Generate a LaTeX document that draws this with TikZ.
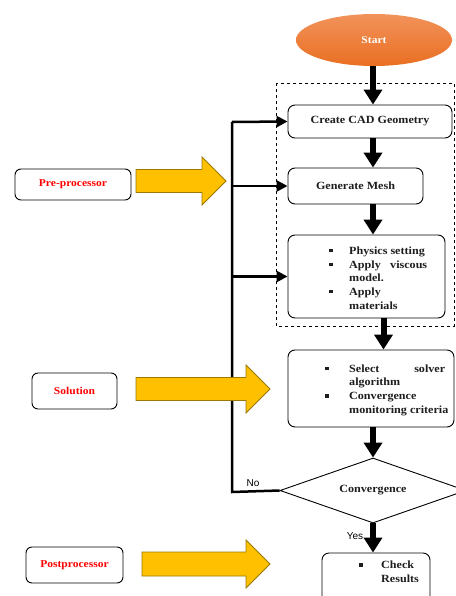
\documentclass[tikz,border=0pt]{standalone}
\usepackage{fontspec}
\setmainfont{Liberation Serif}[FakeStretch=1.1]
\newfontfamily\yesnofont{Liberation Sans}
\usetikzlibrary{shapes.geometric,arrows.meta}

\definecolor{starttop}{HTML}{F2925A}
\definecolor{startbot}{HTML}{E96F22}
\definecolor{arrowyellow}{HTML}{FFC000}
\definecolor{arrowedge}{HTML}{9A7800}
\definecolor{boxtext}{HTML}{1E1E1E}

\newcommand{\sqbullet}{\rule[2pt]{3.5pt}{3.5pt}}
% block arrow: start x, head x, tip x, mid y, half body
\newcommand{\yellowarrow}[5]{%
  \draw[blockarrow] (#1,#4-#5) -- (#2,#4-#5) -- (#2,#4-24) -- (#3,#4)
    -- (#2,#4+24) -- (#2,#4+#5) -- (#1,#4+#5) -- cycle;}

\tikzset{
  stepbox/.style={draw, line width=0.9pt, rounded corners=7pt, inner sep=0pt,
    text=boxtext, font=\bfseries\fontsize{11}{13}\selectfont},
  sidebox/.style={draw, line width=0.9pt, rounded corners=6pt, inner sep=0pt,
    text=red, font=\bfseries\fontsize{10.5}{12}\selectfont},
  listtext/.style={inner sep=0pt, text=boxtext,
    font=\bfseries\fontsize{11}{13.7}\selectfont},
  flow/.style={line width=6pt, -{Triangle[length=15pt,width=18pt]}},
  bus/.style={line width=2.5pt},
  busarrow/.style={bus, -{Triangle[length=11pt,width=11pt]}},
  blockarrow/.style={fill=arrowyellow, draw=arrowedge, line width=0.8pt},
  yesno/.style={font=\yesnofont\fontsize{10}{11}\selectfont}
}

\begin{document}
\begin{tikzpicture}[x=1pt, y=-1pt]
  \useasboundingbox (0,0) rectangle (455,596);

  % Start
  \node[ellipse, minimum width=156pt, minimum height=52pt, inner sep=0pt,
        top color=starttop, bottom color=startbot, text=white,
        font=\bfseries\fontsize{10.5}{12}\selectfont] (start) at (374,40) {Start};
  \coordinate (col) at (373,0);

  % Pre-processing steps
  \draw[dashed, line width=0.8pt] (276,83) rectangle (454,326);
  \node[stepbox, minimum width=164pt, minimum height=33pt] (cad) at (370,121.5) {Create CAD Geometry};
  \node[stepbox, minimum width=135pt, minimum height=36pt] (mesh) at (355.5,186) {Generate Mesh};
  \node[stepbox, minimum width=157pt, minimum height=83pt] (phys) at (366.5,276.5) {};
  \node[listtext, anchor=west] (physlist) at (329,279) {%
    \begin{tabular}{@{}p{20pt}@{}l@{}}
      \sqbullet & Physics setting\\
      \sqbullet & \hbox to 78pt{Apply\hfill viscous}\\
                & model.\\
      \sqbullet & Apply\\
                & materials
    \end{tabular}};

  % Solution steps
  \node[stepbox, minimum width=166pt, minimum height=77pt] (sel) at (371,388.5) {};
  \node[listtext, anchor=west] (sellist) at (325,390) {%
    \begin{tabular}{@{}p{24pt}@{}l@{}}
      \sqbullet & \hbox to 96pt{Select\hfill solver}\\
                & algorithm\\
      \sqbullet & Convergence\\
                & monitoring criteria
    \end{tabular}};
  \node[diamond, draw, line width=0.9pt, minimum width=186pt, minimum height=65pt,
        shape aspect=2.8, inner sep=0pt, text=boxtext,
        font=\bfseries\fontsize{11}{13}\selectfont] (conv) at (373,490.5) {Convergence};

  % Post-processing
  \node[stepbox, minimum width=108pt, minimum height=70pt] (check) at (376,588) {};
  \node[listtext, anchor=west] (checklist) at (359,573) {%
    \begin{tabular}{@{}p{22pt}@{}l@{}}
      \sqbullet & Check\\
                & Results
    \end{tabular}};

  % Flow arrows
  \draw[flow] (col |- start.south) -- (col |- cad.north);
  \draw[flow] (col |- cad.south) -- (col |- mesh.north);
  \draw[flow] (col |- mesh.south) -- (col |- phys.north);
  \draw[flow] ([xshift=17pt]phys.south) -- ([xshift=17pt]phys.south |- sel.north);
  \draw[flow] (col |- sel.south) -- (conv.north);
  \draw[flow] (conv.south) -- (conv.south |- check.north);
  \node[yesno] (yes) at (355,536) {Yes};

  % Feedback bus
  \coordinate (bustop) at (232,122);
  \coordinate (busbot) at (232,492);
  \draw[bus] (conv.west) -- (busbot) -- (bustop);
  \draw[busarrow] (bustop) -- (cad.west);
  \draw[busarrow] (bustop |- mesh.west) -- (mesh.west);
  \draw[busarrow] (bustop |- phys.west) -- (phys.west);
  \node[yesno] (no) at (253,483) {No};

  % Stage labels
  \node[sidebox, minimum width=116pt, minimum height=31pt] (pre) at (73,184.5) {Pre-processor};
  \node[sidebox, minimum width=85pt, minimum height=36pt] (sol) at (74.5,391) {Solution};
  \node[sidebox, minimum width=97pt, minimum height=36pt] (post) at (74.5,565) {Postprocessor};
  \yellowarrow{136}{202}{226}{181}{11.5}
  \yellowarrow{136}{246}{270}{389}{11.5}
  \yellowarrow{142}{246}{270}{564}{12}
\end{tikzpicture}
\end{document}
